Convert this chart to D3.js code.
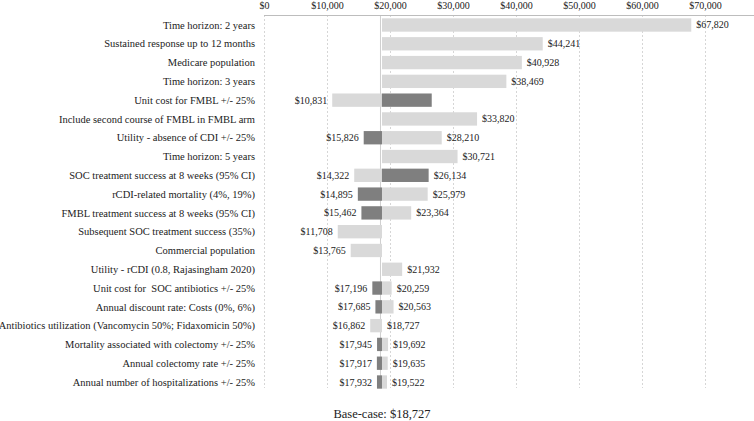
<!DOCTYPE html>
<html><head><meta charset="utf-8">
<script src="https://cdn.jsdelivr.net/npm/d3@7"></script>
<style>body{margin:0;background:#fff}svg{display:block}text{white-space:pre}</style>
</head><body><svg id="c" width="754" height="421"></svg>
<script>
const parameters = [
  "Time horizon: 2 years",
  "Sustained response up to 12 months",
  "Medicare population",
  "Time horizon: 3 years",
  "Unit cost for FMBL +/- 25%",
  "Include second course of FMBL in FMBL arm",
  "Utility - absence of CDI +/- 25%",
  "Time horizon: 5 years",
  "SOC treatment success at 8 weeks (95% CI)",
  "rCDI-related mortality (4%, 19%)",
  "FMBL treatment success at 8 weeks (95% CI)",
  "Subsequent SOC treatment success (35%)",
  "Commercial population",
  "Utility - rCDI (0.8, Rajasingham 2020)",
  "Unit cost for  SOC antibiotics +/- 25%",
  "Annual discount rate: Costs (0%, 6%)",
  "Antibiotics utilization (Vancomycin 50%; Fidaxomicin 50%)",
  "Mortality associated with colectomy +/- 25%",
  "Annual colectomy rate +/- 25%",
  "Annual number of hospitalizations +/- 25%"
];
// ICER for light series (scenario / first bound)
const lightValues = [67820, 44241, 40928, 38469, 10831, 33820, 28210, 30721, 14322, 25979,
                     23364, 11708, 13765, 21932, 20259, 20563, 16862, 19692, 19635, 19522];
// ICER for dark series (second bound)
const darkValues = [null, null, null, null, 26623, null, 15826, null, 26134, 14895,
                    15462, null, null, null, 17196, 17685, 18727, 17945, 17917, 17932];
const darkLabelShown = [false, false, false, false, false, false, true, false, true, true,
                        true, false, false, false, true, true, true, true, true, true];
const baseCase = 18727;
const tickValues = [0, 10000, 20000, 30000, 40000, 50000, 60000, 70000];

const svg = d3.select("#c");
const font = "'Liberation Serif', 'Times New Roman', serif";
const x = d3.scaleLinear().domain([0, 70000]).range([264, 705]);
const y = d3.scaleBand().domain(parameters).range([15.6, 391.4]).paddingInner(0.29).paddingOuter(0.145);
const gridBottom = 388;
const axisY = 15;
const fmt = v => "$" + d3.format(",")(v);

// grid
svg.append("g").selectAll("line").data(tickValues).join("line")
  .attr("x1", d => x(d) + 0.5).attr("x2", d => x(d) + 0.5)
  .attr("y1", axisY).attr("y2", gridBottom)
  .attr("stroke", "#d6d6d6").attr("stroke-width", 1).attr("stroke-dasharray", "2,2");

// base-case line
svg.append("line").attr("x1", x(baseCase) - 1.5).attr("x2", x(baseCase) - 1.5)
  .attr("y1", axisY).attr("y2", gridBottom).attr("stroke", "#cfcfcf").attr("stroke-width", 1);

// top axis
const axis = d3.axisTop(x).tickValues(tickValues).tickSize(0).tickPadding(6).tickFormat(fmt);
const ag = svg.append("g").attr("transform", `translate(0,${axisY})`).call(axis);
ag.select(".domain").attr("d", `M${x(0)},0.5H754`).attr("stroke", "#bdbdbd");
ag.selectAll("text").attr("font-family", font).attr("font-size", 10).attr("fill", "#222");

// bars
function drawSeries(values, color) {
  const rows = parameters.map((p, i) => ({p, v: values[i], i})).filter(d => d.v != null);
  svg.append("g").selectAll("rect").data(rows).join("rect")
    .attr("x", d => Math.min(x(d.v), x(baseCase)))
    .attr("width", d => Math.abs(x(d.v) - x(baseCase)))
    .attr("y", d => y(d.p)).attr("height", y.bandwidth())
    .attr("fill", color);
  return rows;
}
const lightRows = drawSeries(lightValues, "#d9d9d9");
const darkRows = drawSeries(darkValues, "#7f7f7f");

// value labels
const labelRows = lightRows.concat(darkRows.filter(d => darkLabelShown[d.i]));
svg.append("g").selectAll("text").data(labelRows).join("text")
  .attr("x", d => d.v < baseCase ? x(d.v) - 5 : x(d.v) + 5)
  .attr("y", d => y(d.p) + y.bandwidth() / 2)
  .attr("dy", "0.35em")
  .attr("text-anchor", d => d.v < baseCase ? "end" : "start")
  .attr("font-family", font).attr("font-size", 10).attr("fill", "#222")
  .text(d => fmt(d.v));

// parameter labels
svg.append("g").selectAll("text").data(parameters).join("text")
  .attr("x", 255).attr("y", d => y(d) + y.bandwidth() / 2).attr("dy", "0.35em")
  .attr("text-anchor", "end").attr("font-family", font).attr("font-size", 10.5).attr("fill", "#222")
  .text(d => d);

svg.append("text").attr("x", x(baseCase)).attr("y", 418).attr("text-anchor", "middle")
  .attr("font-family", font).attr("font-size", 12.5).attr("fill", "#222")
  .text("Base-case: " + fmt(baseCase));
</script></body></html>
